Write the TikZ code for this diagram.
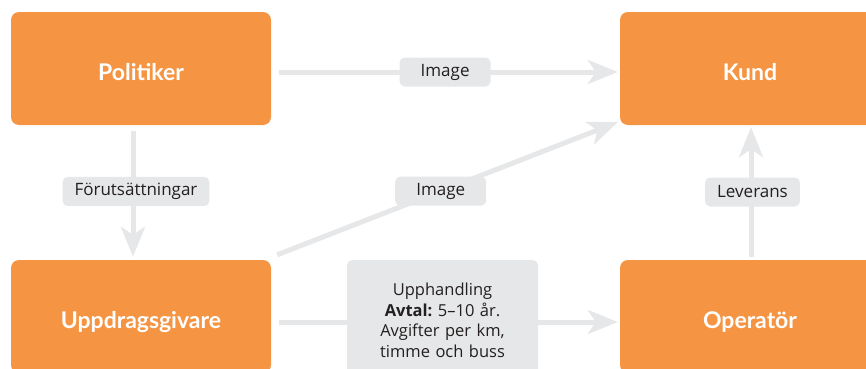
\documentclass[tikz,border=0pt]{standalone}
\usepackage{fontspec}
\setmainfont{Open Sans}
\newfontfamily\titlefont{Lato}
\usetikzlibrary{arrows.meta}
\definecolor{orng}{HTML}{F59543}
\definecolor{lgray}{HTML}{E6E7E8}
\definecolor{dtext}{HTML}{231F20}
\frenchspacing
\begin{document}
\begin{tikzpicture}[x=1pt,y=1pt,
  box/.style={fill=orng, rounded corners=8pt, minimum width=260pt, minimum height=113pt,
    text=white, font=\titlefont\fontsize{23}{27}\selectfont\bfseries, inner sep=0pt,
    text height=23pt, text depth=0pt},
  lbl/.style={fill=lgray, rounded corners=5pt, text=dtext, font=\fontsize{17}{20}\selectfont,
    inner xsep=12pt, inner ysep=0pt, minimum width=91pt, minimum height=29pt},
  lblbig/.style={fill=lgray, rounded corners=5pt, text=dtext, font=\fontsize{16.5}{20.5}\selectfont,
    align=center, text width=167pt, inner xsep=12pt, inner ysep=9pt, minimum height=120pt, anchor=north},
  arr/.style={draw=lgray, line width=5pt, -{Stealth[length=30pt,width=24pt,inset=8pt]}}]
\useasboundingbox (0,0) rectangle (866,368);
\clip (0,0) rectangle (866,368);

\node[box] (pol)  at (141,299.5) {Politiker};
\node[box] (kund) at (750,299.5) {Kund};
\node[box] (upp)  at (141,51.5)  {Uppdragsgivare};
\node[box] (op)   at (750,51.5)  {Operatör};

% Politiker -> Kund
\draw[arr] ([xshift=8pt,yshift=-3.5pt]pol.east) -- ([xshift=-2pt,yshift=-3.5pt]kund.west)
  node[lbl, pos=0.49] (im1) {Image};
% Uppdragsgivare -> Kund (diagonal)
\draw[arr] ([xshift=6pt,yshift=5pt]upp.north east) -- ([xshift=-2pt,yshift=3pt]kund.south west)
  node[lbl, pos=0.48] (im2) {Image};
% Politiker -> Uppdragsgivare
\draw[arr] ([xshift=-8pt,yshift=-6pt]pol.south) -- ([xshift=-8pt,yshift=3pt]upp.north)
  node[lbl, pos=0.48, xshift=3pt] (fo) {Förutsättningar};
% Operatör -> Kund
\draw[arr] ([xshift=1pt,yshift=3pt]op.north) -- ([xshift=1pt,yshift=-2pt]kund.south)
  node[lbl, pos=0.5, xshift=1.5pt] (lev) {Leverans};
% Uppdragsgivare -> Operatör
\draw[arr] ([xshift=8pt,yshift=-5.5pt]upp.east) -- ([xshift=-2pt,yshift=-5.5pt]op.west);
\node[lblbig] (avt) at (442.5,108) {Upphandling\\\textbf{Avtal:} 5–10 år.\\Avgifter per km,\\timme och buss};
\end{tikzpicture}
\end{document}
